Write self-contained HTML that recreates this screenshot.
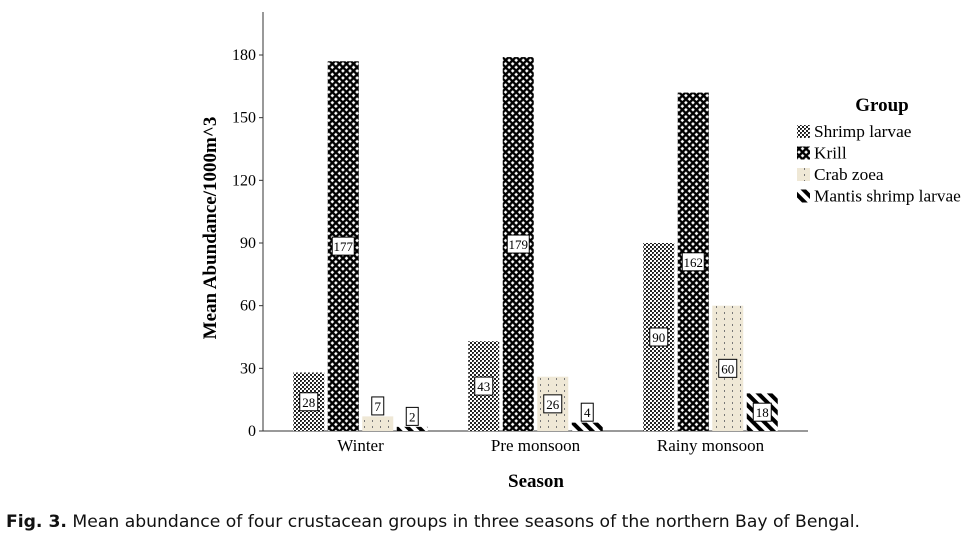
<!DOCTYPE html>
<html><head><meta charset="utf-8"><style>
body{margin:0;background:#fff;width:975px;height:555px;overflow:hidden}
svg text{font-family:"Liberation Serif",serif}
#cap{position:absolute;left:6px;top:512px;font-family:"DejaVu Sans",sans-serif;font-size:17.2px;color:#111;white-space:nowrap}
</style></head><body>
<svg id="chart" width="975" height="510" style="position:absolute;left:0;top:0">
<defs>
<pattern id="p0" width="4" height="4" patternUnits="userSpaceOnUse"><rect width="4" height="4" fill="#fff"/><rect width="2" height="2" fill="#222"/><rect x="2" y="2" width="2" height="2" fill="#222"/><rect x="1" y="1" width="1" height="1" fill="#666"/></pattern>
<pattern id="p1" width="5" height="5" patternUnits="userSpaceOnUse" patternTransform="rotate(45)"><rect width="5" height="5" fill="#000"/><rect x="1.3" y="1.3" width="2.6" height="2.6" fill="#fff"/></pattern>
<pattern id="p2" width="8" height="6" patternUnits="userSpaceOnUse"><rect width="8" height="6" fill="#efe8d6"/><rect x="4" y="0" width="1" height="2" fill="#777"/></pattern>
<pattern id="p3" width="8" height="8" patternUnits="userSpaceOnUse" patternTransform="rotate(-45)"><rect width="8" height="8" fill="#fff"/><rect width="4" height="8" fill="#000"/></pattern>
</defs>
<g id="axes"></g><g id="bars"></g><g id="legend"></g>
</svg>
<div id="cap"><b>Fig. 3.</b> Mean abundance of four crustacean groups in three seasons of the northern Bay of Bengal.</div>
<script>
const seasons=["Winter","Pre monsoon","Rainy monsoon"];
const groups=["Shrimp larvae","Krill","Crab zoea","Mantis shrimp larvae"];
const shrimp=[28,43,90];
const krill=[177,179,162];
const crab=[7,26,60];
const mantis=[2,4,18];
const yTicks=[0,30,60,90,120,150,180];
const series=[shrimp,krill,crab,mantis];
const NS="http://www.w3.org/2000/svg";
const X0=263,X1=808,Y0=431,YT=55;
const y=v=>Y0-(v/180)*(Y0-YT);
const xc=i=>360.5+i*175;
function mk(t,a,p){const e=document.createElementNS(NS,t);for(const k in a)e.setAttribute(k,a[k]);p.appendChild(e);return e;}
const ax=document.getElementById('axes'),bg=document.getElementById('bars'),lg=document.getElementById('legend');
let e=mk('line',{x1:X0,y1:12,x2:X0,y2:Y0,stroke:'#333'},ax);


e=mk('line',{x1:X0,y1:Y0,x2:X1,y2:Y0,stroke:'#333'},ax);


yTicks.forEach(t=>{mk('line',{x1:X0-4,x2:X0,y1:y(t),y2:y(t),stroke:'#333'},ax);
e=mk('text',{x:X0-7,y:y(t)+5,'text-anchor':'end','font-size':16},ax);e.textContent=t;

});
seasons.forEach((s,i)=>{e=mk('text',{x:xc(i),y:451,'text-anchor':'middle','font-size':17},ax);e.textContent=s;

});
e=mk('text',{x:536,y:487,'text-anchor':'middle','font-size':19,'font-weight':'bold'},ax);e.textContent='Season';


e=mk('text',{x:216,y:228,'text-anchor':'middle','font-size':19,'font-weight':'bold',transform:'rotate(-90 216 228)'},ax);e.textContent='Mean Abundance/1000m^3';


const bw=31,pitch=34.5;
series.forEach((arr,g)=>arr.forEach((v,i)=>{
 const x=xc(i)-67.25+g*pitch;
 const b=mk('rect',{x:x,y:y(v),width:bw,height:Y0-y(v),fill:'url(#p'+g+')'},bg);
 
 
 const lv=v<10?v+5:v/2,cy=y(lv),w=String(v).length>2?22:(String(v).length>1?18:12);
 mk('rect',{x:x+bw/2-w/2,y:cy-9,width:w,height:18,fill:'#fff',stroke:'#000','stroke-width':1},bg);
 const t=mk('text',{x:x+bw/2,y:cy+5,'text-anchor':'middle','font-size':13},bg);t.textContent=v;
 
 
}));
e=mk('text',{x:882,y:111,'text-anchor':'middle','font-size':19,'font-weight':'bold'},lg);e.textContent='Group';


groups.forEach((g,k)=>{const yy=125+k*21.5;
 mk('rect',{x:797,y:yy,width:13,height:13,fill:'url(#p'+k+')'},lg);
 const t=mk('text',{x:814,y:yy+12,'font-size':17.3},lg);t.textContent=g;
 
 });
</script>
</body></html>
